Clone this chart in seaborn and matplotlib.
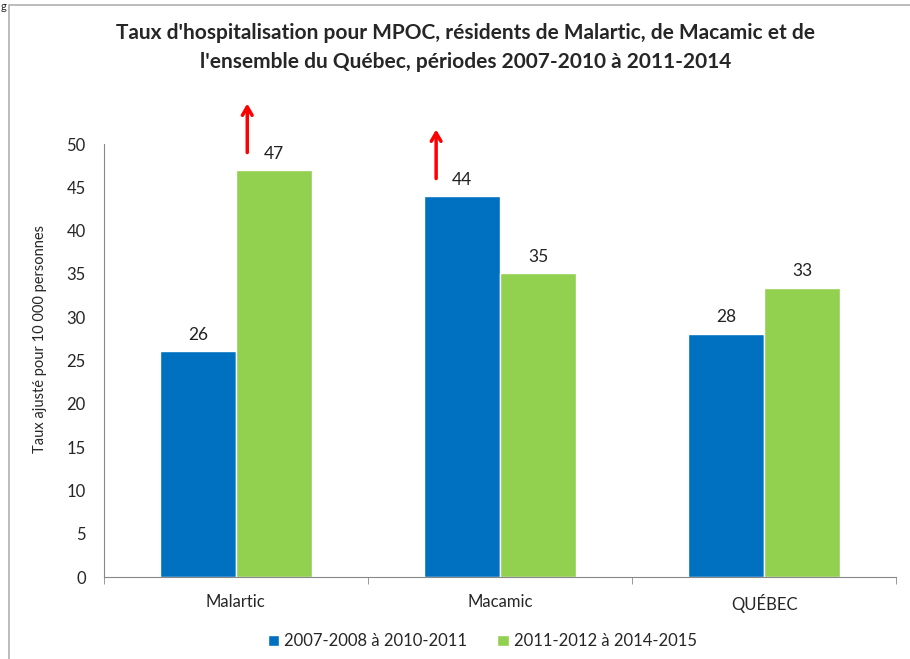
import seaborn as sns
from matplotlib import pyplot as plt
from matplotlib.patches import Rectangle
import pandas as pd

# data
regions = ['Malartic', 'Macamic', 'QUÉBEC']
periods = ['2007-2008 à 2010-2011', '2011-2012 à 2014-2015']
taux_p1 = [26.1, 44.0, 28.1]
taux_p2 = [47.0, 35.1, 33.4]
# significant increase markers: (region index, period index)
hausses = [(0, 1), (1, 0)]

df = pd.DataFrame({
    'region': regions * 2,
    'periode': [periods[0]] * 3 + [periods[1]] * 3,
    'taux': taux_p1 + taux_p2,
})

sns.set_style("white")
plt.rcParams['font.family'] = ['Lato', 'DejaVu Sans']

fig = plt.figure(figsize=(9.1, 6.59), dpi=100)
ax = fig.add_axes([0.114, 0.1244, 0.871, 0.657])

colors = ['#0070C0', '#92D050']
g = sns.barplot(data=df, x='region', y='taux', hue='periode', hue_order=periods,
                palette=colors, width=0.576, gap=0, saturation=1, ax=ax, legend=True)

for cont in ax.containers:
    ax.bar_label(cont, labels=['%.0f' % b.get_height() for b in cont],
                 padding=6, fontsize=12.5, color='#222222')

# red arrows
for ri, pi in hausses:
    bar = ax.containers[pi][ri]
    x = bar.get_x() + bar.get_width() * (0.15 if pi == 1 else 0.16)
    y0 = bar.get_height() + 1.7
    ax.annotate('', xy=(x, y0 + 6.3), xytext=(x, y0), annotation_clip=False,
                arrowprops=dict(arrowstyle='->,head_width=0.35,head_length=0.6',
                                color='red', lw=2.5))

ax.set_ylim(0, 50)
ax.set_yticks(range(0, 51, 5))
ax.set_xlim(-0.5, 2.5)
ax.set_xlabel('')
ax.set_ylabel('Taux ajusté pour 10 000 personnes', fontsize=10.5)
ax.yaxis.set_label_coords(-0.072, 0.55)
ax.tick_params(axis='y', labelsize=12, length=5, color='#888888', pad=8)
ax.tick_params(axis='x', labelsize=12, length=0, pad=12)
ax.set_xticks([-0.5, 0.5, 1.5, 2.5], minor=True)
ax.tick_params(axis='x', which='minor', length=5, color='#888888', bottom=True)
sns.despine(ax=ax)
for s in ['left', 'bottom']:
    ax.spines[s].set_color('#888888')

ax.legend(loc='center', bbox_to_anchor=(0.53, 0.027), bbox_transform=fig.transFigure,
          ncol=2, frameon=False, fontsize=12, handlelength=0.7, handleheight=0.7,
          handletextpad=0.3, columnspacing=1.8)

fig.text(0.512, 0.928, "Taux d'hospitalisation pour MPOC, résidents de Malartic, de Macamic et de\n"
         "l'ensemble du Québec, périodes 2007-2010 à 2011-2014",
         ha='center', va='center', fontsize=15, fontweight='bold', linespacing=1.55)

# outer frame of the pasted chart
fig.add_artist(Rectangle((0.0099, -0.1), 1.2, 1.092, transform=fig.transFigure,
                         fill=False, edgecolor='#b0b0b0', lw=1.2))
fig.text(0.001, 0.999, 'g', fontsize=8, ha='left', va='top')

plt.savefig('out.png', dpi=100)
